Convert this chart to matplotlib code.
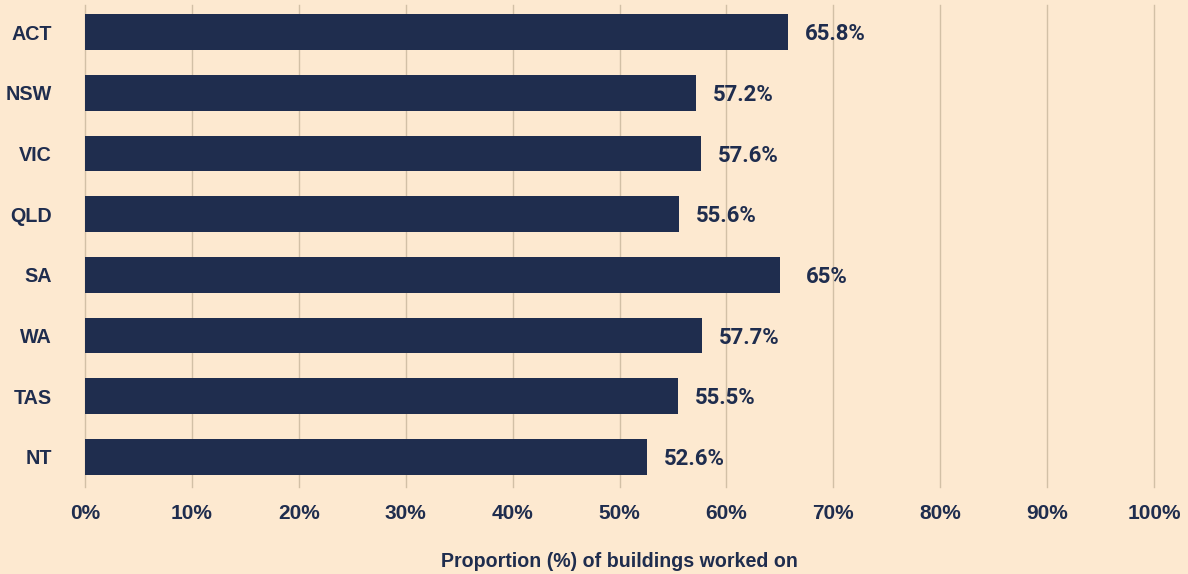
import matplotlib.pyplot as plt
from matplotlib import font_manager

# データ
states = ['ACT', 'NSW', 'VIC', 'QLD', 'SA', 'WA', 'TAS', 'NT']
values = [65.8, 57.2, 57.6, 55.6, 65, 57.7, 55.5, 52.6]
value_labels = ['65.8%', '57.2%', '57.6%', '55.6%', '65%', '57.7%', '55.5%', '52.6%']
x_ticks = list(range(0, 101, 10))
x_tick_labels = [f'{t}%' for t in x_ticks]

bg = '#FDE9D0'
navy = '#1F2D4E'
grid_col = '#D2C0A6'

names = {f.name for f in font_manager.fontManager.ttflist}
narrow = 'Liberation Sans Narrow' if 'Liberation Sans Narrow' in names else 'Roboto'

plt.rcParams['font.family'] = ['Liberation Sans', 'DejaVu Sans']

fig = plt.figure(figsize=(11.88, 5.74), dpi=100, facecolor=bg)
ax = fig.add_axes([85 / 1188, 1 - 487 / 574, (1154 - 85) / 1188, (487 - 5) / 574])
ax.set_facecolor(bg)

ypos = list(range(len(states)))
ax.barh(ypos, values, height=0.59, color=navy, zorder=3)

# 値ラベル（バーの右側）
for y, v, lab in zip(ypos, values, value_labels):
    ax.annotate(lab, (v, y), xytext=(34, -1.5), textcoords='offset points',
                ha='center', va='center', fontsize=16, fontweight='bold',
                color=navy, family=[narrow, 'DejaVu Sans'])

ax.set_xlim(0, 100)
ax.set_ylim(7.5, -0.45)
ax.set_xticks(x_ticks)
ax.set_xticklabels(x_tick_labels)
ax.set_yticks(ypos)
ax.set_yticklabels(states)
ax.xaxis.grid(True, color=grid_col, linewidth=1.0, zorder=0)
for gl in ax.get_xgridlines():
    gl.set_clip_on(False)
ax.tick_params(axis='x', length=0, pad=12, labelsize=15, labelcolor=navy)
ax.tick_params(axis='y', length=0, pad=24, labelsize=14.2, labelcolor=navy)
for lab in ax.get_xticklabels() + ax.get_yticklabels():
    lab.set_fontweight('bold')
for s in ax.spines.values():
    s.set_visible(False)

ax.set_xlabel('Proportion (%) of buildings worked on', fontsize=14.1,
              fontweight='bold', color=navy, labelpad=21)

fig.savefig('out.png', dpi=100, facecolor=bg)
